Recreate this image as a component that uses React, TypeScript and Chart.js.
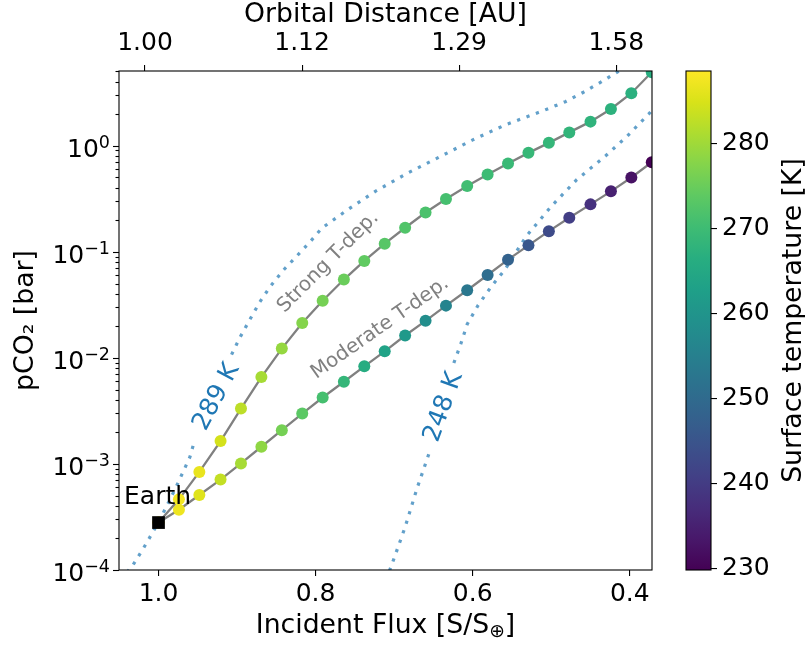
import React, { useEffect, useRef } from 'react';
import { Chart, registerables } from 'chart.js';

Chart.register(...registerables);

// ---------------- data ----------------
const FLUX = [1.0, 0.974, 0.948, 0.921, 0.895, 0.869, 0.843, 0.817, 0.791, 0.764, 0.738, 0.712, 0.686,
  0.66, 0.634, 0.607, 0.581, 0.555, 0.529, 0.503, 0.477, 0.45, 0.424, 0.398, 0.372];

const STRONG_PCO2 = [2.8e-4, 4.63e-4, 8.4e-4, 1.64e-3, 3.32e-3, 6.58e-3, 0.0122, 0.0213, 0.0345, 0.0546,
  0.0817, 0.119, 0.168, 0.234, 0.313, 0.415, 0.533, 0.678, 0.853, 1.06, 1.33, 1.68, 2.21, 3.11, 4.91];

const MODERATE_PCO2 = [2.8e-4, 3.7e-4, 5.09e-4, 7.11e-4, 1.01e-3, 1.45e-3, 2.08e-3, 2.98e-3, 4.22e-3, 5.94e-3,
  8.3e-3, 0.0115, 0.0162, 0.0223, 0.031, 0.0433, 0.0603, 0.0841, 0.1146, 0.156, 0.209, 0.279, 0.37, 0.5, 0.697];

const STRONG_T = [289, 287.5, 286.5, 284.5, 282.5, 280.5, 279, 277.5, 276, 275, 274, 273, 272.3, 271.6, 271,
  270.4, 269.9, 269.4, 268.9, 268.5, 268.1, 267.7, 267.3, 266.9, 266.5];

const MODERATE_T = [289, 287, 285.5, 283, 280.5, 278.5, 276, 273.5, 271, 268.5, 266, 263.5, 261, 258.5, 256,
  253, 250.5, 248, 245.5, 243, 240.5, 238, 235, 232.5, 229.8];

const ISO289_FLUX = [1.04, 1.033, 1.019, 1.0, 0.979, 0.96, 0.954, 0.93, 0.907, 0.896, 0.883, 0.871, 0.858,
  0.841, 0.824, 0.807, 0.792, 0.76, 0.724, 0.683, 0.641, 0.6, 0.559, 0.513, 0.482, 0.459, 0.437, 0.415, 0.407];
const ISO289_PCO2: (number | null)[] = [9.5e-5, 1.1e-4, 1.61e-4, 2.81e-4, 5.75e-4, 1.16e-3, 1.67e-3, null, 0.0107,
  0.0157, 0.0234, 0.0336, 0.0466, 0.0669, 0.0907, 0.1238, 0.1666, 0.246, 0.37, 0.549, 0.789, 1.13, 1.56, 2.09,
  2.59, 3.18, 3.95, 4.97, 5.38];

const ISO248_FLUX = [0.706, 0.703, 0.686, 0.671, 0.654, 0.639, 0.624, 0.615, 0.607, 0.593, 0.576, 0.559, 0.532,
  0.5, 0.468, 0.431, 0.403, 0.376, 0.369];
const ISO248_PCO2: (number | null)[] = [9.8e-5, 1.12e-4, 2.54e-4, 5.83e-4, 1.36e-3, null, 8.93e-3, 0.0136, 0.0207,
  0.0313, 0.0473, 0.0676, 0.139, 0.267, 0.473, 0.796, 1.23, 1.98, 2.26];

const EARTH_FLUX = 1.0;
const EARTH_PCO2 = 2.8e-4;

const X_TICKS = [1.0, 0.8, 0.6, 0.4];
const Y_DECADES = [-4, -3, -2, -1, 0];
const Y_MULTS = [1, 2, 3, 4, 5, 6, 7, 8, 9];
const CB_TICKS = [230, 240, 250, 260, 270, 280];

const X_MIN = 0.3717;
const X_MAX = 1.0503;
const TOP_SHIFT = -0.0172;
const Y_MIN = 1e-4;
const Y_MAX = 5.04;
const T_MIN = 229.8;
const T_MAX = 288.5;

// ---------------- styling ----------------
const FONT = "'DejaVu Sans', sans-serif";
const VIRIDIS = ['#440154', '#48186a', '#472d7b', '#424086', '#3b528b', '#33638d', '#2c728e', '#26828e',
  '#21918c', '#1fa088', '#28ae80', '#3fbc73', '#5ec962', '#84d44b', '#addc30', '#d8e219', '#fde725'];

const hexToRgb = (h: string) => [parseInt(h.slice(1, 3), 16), parseInt(h.slice(3, 5), 16), parseInt(h.slice(5, 7), 16)];
const cmap = (t: number) => {
  const f = Math.min(1, Math.max(0, (t - T_MIN) / (T_MAX - T_MIN))) * (VIRIDIS.length - 1);
  const i = Math.min(VIRIDIS.length - 2, Math.floor(f));
  const r = f - i;
  const a = hexToRgb(VIRIDIS[i]);
  const b = hexToRgb(VIRIDIS[i + 1]);
  const c = a.map((v, k) => Math.round(v + (b[k] - v) * r));
  return `rgb(${c[0]},${c[1]},${c[2]})`;
};

const TEXT_LABELS = [
  { text: 'Strong T-dep.', flux: 0.784, pco2: 0.0796, angle: 45, color: '#808080', size: 20 },
  { text: 'Moderate T-dep.', flux: 0.718, pco2: 0.019, angle: 35, color: '#808080', size: 20 },
  { text: '289 K', flux: 0.926, pco2: 4.27e-3, angle: 62, color: '#1f77b4', size: 25 },
  { text: '248 K', flux: 0.637, pco2: 3.43e-3, angle: 70, color: '#1f77b4', size: 25 },
];
const EARTH_LABEL = { text: 'Earth', flux: 1.0439, pco2: 4.21e-4 };

const pts = (xs: number[], ys: (number | null)[]) => xs.map((x, i) => ({ x, y: ys[i] }));

const zeroPad = (s: any) => {
  s.paddingLeft = 0; s.paddingRight = 0; s.paddingTop = 0; s.paddingBottom = 0;
};

const mainPlugin = {
  id: 'mainDecor',
  afterDraw(chart: any) {
    const { ctx, chartArea: ca, scales } = chart;
    const xs = scales.x;
    const ys = scales.y;
    ctx.save();
    // y ticks (major + minor) and major labels 10^n
    ctx.strokeStyle = '#000';
    ctx.lineWidth = 1.1;
    for (const t of ys.ticks) {
      const py = Math.round(ys.getPixelForValue(t.value)) + 0.5;
      const e = Math.log10(t.value);
      const r = Math.round(e);
      const major = Math.abs(e - r) < 1e-6;
      const len = major ? 6 : 3.5;
      ctx.beginPath();
      ctx.moveTo(ca.left - len, py);
      ctx.lineTo(ca.left, py);
      ctx.stroke();
      if (major) {
        const expText = r < 0 ? '\u2212' + String(-r) : String(r);
        ctx.fillStyle = '#000';
        ctx.textAlign = 'left';
        ctx.textBaseline = 'alphabetic';
        ctx.font = `17.5px ${FONT}`;
        const we = ctx.measureText(expText).width;
        ctx.font = `25px ${FONT}`;
        const wb = ctx.measureText('10').width;
        const right = ca.left - 9;
        const base = py + 10.5;
        ctx.fillText('10', right - we - wb, base);
        ctx.font = `17.5px ${FONT}`;
        ctx.fillText(expText, right - we, base - 9);
      }
    }
    // frame
    ctx.strokeRect(ca.left, ca.top, ca.right - ca.left, ca.bottom - ca.top);

    // rotated labels
    for (const l of TEXT_LABELS) {
      ctx.save();
      ctx.translate(xs.getPixelForValue(l.flux), ys.getPixelForValue(l.pco2));
      ctx.rotate((-l.angle * Math.PI) / 180);
      ctx.font = `${l.size}px ${FONT}`;
      ctx.fillStyle = l.color;
      ctx.textAlign = 'center';
      ctx.textBaseline = 'middle';
      ctx.fillText(l.text, 0, 0);
      ctx.restore();
    }
    // Earth
    ctx.font = `25px ${FONT}`;
    ctx.fillStyle = '#000';
    ctx.textAlign = 'left';
    ctx.textBaseline = 'alphabetic';
    ctx.fillText(EARTH_LABEL.text, xs.getPixelForValue(EARTH_LABEL.flux), ys.getPixelForValue(EARTH_LABEL.pco2));

    // bottom axis title with subscript
    const big = `26.7px ${FONT}`;
    const small = `18.7px ${FONT}`;
    const p1 = 'Incident Flux [S/S';
    const p2 = '\u2295';
    const p3 = ']';
    ctx.font = big;
    const w1 = ctx.measureText(p1).width;
    const w3 = ctx.measureText(p3).width;
    ctx.font = small;
    const w2 = ctx.measureText(p2).width;
    const cx = (ca.left + ca.right) / 2;
    const by = ca.bottom + 63;
    let x0 = cx - (w1 + w2 + w3) / 2;
    ctx.font = big;
    ctx.fillText(p1, x0, by);
    x0 += w1;
    ctx.font = small;
    ctx.fillText(p2, x0, by + 4);
    x0 += w2;
    ctx.font = big;
    ctx.fillText(p3, x0, by);
    ctx.restore();
  },
};

const cbPlugin = {
  id: 'cbDecor',
  beforeDraw(chart: any) {
    const { ctx, chartArea: ca } = chart;
    const g = ctx.createLinearGradient(0, ca.bottom, 0, ca.top);
    VIRIDIS.forEach((c, i) => g.addColorStop(i / (VIRIDIS.length - 1), c));
    ctx.save();
    ctx.fillStyle = g;
    ctx.fillRect(ca.left, ca.top, ca.right - ca.left, ca.bottom - ca.top);
    ctx.restore();
  },
  afterDraw(chart: any) {
    const { ctx, chartArea: ca } = chart;
    ctx.save();
    ctx.strokeStyle = '#000';
    ctx.lineWidth = 1.1;
    ctx.strokeRect(ca.left, ca.top, ca.right - ca.left, ca.bottom - ca.top);
    ctx.translate(794, (ca.top + ca.bottom) / 2);
    ctx.rotate(-Math.PI / 2);
    ctx.font = `26.7px ${FONT}`;
    ctx.fillStyle = '#000';
    ctx.textAlign = 'center';
    ctx.textBaseline = 'middle';
    ctx.fillText('Surface temperature [K]', 0, 0);
    ctx.restore();
  },
};

export default function App() {
  const mainRef = useRef<HTMLCanvasElement>(null);
  const cbRef = useRef<HTMLCanvasElement>(null);

  useEffect(() => {
    Chart.defaults.font.family = FONT;
    Chart.defaults.font.size = 25;
    Chart.defaults.color = '#000';

    const yTicks: number[] = [];
    Y_DECADES.forEach((d) => Y_MULTS.forEach((m) => {
      const v = m * Math.pow(10, d);
      if (v <= Y_MAX * 1.0001) yTicks.push(v);
    }));

    const axisGrid = { drawOnChartArea: false, drawTicks: true, tickLength: 6, color: '#000', lineWidth: 1.1 };

    const main = new Chart(mainRef.current!, {
      type: 'scatter',
      data: {
        datasets: [
          {
            label: 'Earth',
            data: [{ x: EARTH_FLUX, y: EARTH_PCO2 }],
            pointStyle: 'rect',
            pointRadius: 9,
            pointBackgroundColor: '#000',
            pointBorderWidth: 0,
            borderWidth: 0,
            order: 0,
            clip: 0,
          } as any,
          {
            label: 'Strong T-dep.',
            data: pts(FLUX, STRONG_PCO2),
            showLine: true,
            borderColor: '#808080',
            borderWidth: 2.3,
            pointRadius: 6,
            pointBackgroundColor: STRONG_T.map(cmap),
            pointBorderWidth: 0,
            order: 1,
            clip: 0,
          } as any,
          {
            label: 'Moderate T-dep.',
            data: pts(FLUX, MODERATE_PCO2),
            showLine: true,
            borderColor: '#808080',
            borderWidth: 2.3,
            pointRadius: 6,
            pointBackgroundColor: MODERATE_T.map(cmap),
            pointBorderWidth: 0,
            order: 2,
            clip: 0,
          } as any,
          {
            label: '289 K',
            data: pts(ISO289_FLUX, ISO289_PCO2),
            showLine: true,
            spanGaps: false,
            borderColor: 'rgba(31,119,180,0.7)',
            borderWidth: 3.2,
            borderDash: [3.2, 6.8],
            borderCapStyle: 'butt',
            pointRadius: 0,
            order: 3,
            clip: 0,
          } as any,
          {
            label: '248 K',
            data: pts(ISO248_FLUX, ISO248_PCO2),
            showLine: true,
            spanGaps: false,
            borderColor: 'rgba(31,119,180,0.7)',
            borderWidth: 3.2,
            borderDash: [3.2, 6.8],
            borderCapStyle: 'butt',
            pointRadius: 0,
            order: 4,
            clip: 0,
          } as any,
        ],
      },
      options: {
        responsive: false,
        animation: false,
        devicePixelRatio: 1,
        events: [],
        layout: { padding: { left: 0, right: 153, top: 0, bottom: 0 } },
        plugins: { legend: { display: false }, tooltip: { enabled: false } },
        scales: {
          x: {
            type: 'linear',
            position: 'bottom',
            reverse: true,
            min: X_MIN,
            max: X_MAX,
            afterBuildTicks: (s: any) => { s.ticks = X_TICKS.map((v) => ({ value: v })); },
            afterFit: (s: any) => { s.height = 76; zeroPad(s); },
            ticks: { padding: 3, autoSkip: false, maxRotation: 0, color: '#000', font: { size: 25 }, callback: (v: any) => Number(v).toFixed(1) },
            grid: axisGrid,
            border: { display: false },
          },
          x2: {
            type: 'linear',
            position: 'top',
            reverse: true,
            min: X_MIN + TOP_SHIFT,
            max: X_MAX + TOP_SHIFT,
            afterBuildTicks: (s: any) => { s.ticks = X_TICKS.map((v) => ({ value: v })); },
            afterFit: (s: any) => { s.height = 71; zeroPad(s); },
            ticks: { padding: 7, autoSkip: false, maxRotation: 0, color: '#000', font: { size: 25 }, callback: (v: any) => (1 / Math.sqrt(Number(v))).toFixed(2) },
            grid: axisGrid,
            border: { display: false },
            title: { display: true, text: 'Orbital Distance [AU]', color: '#000', font: { size: 26.7, lineHeight: 1.1 }, padding: { top: 0, bottom: 0 } },
          },
          y: {
            type: 'logarithmic',
            position: 'left',
            min: Y_MIN,
            max: Y_MAX,
            afterBuildTicks: (s: any) => { s.ticks = yTicks.map((v) => ({ value: v })); },
            afterFit: (s: any) => { s.width = 119; zeroPad(s); },
            ticks: { display: false, autoSkip: false },
            grid: { drawOnChartArea: false, drawTicks: true, tickLength: 6, tickColor: 'rgba(0,0,0,0)', color: 'rgba(0,0,0,0)' },
            border: { display: false },
            title: { display: true, text: 'pCO\u2082 [bar]', color: '#000', font: { size: 26.7, lineHeight: 1.1 }, padding: { top: 11, bottom: 0 } },
          },
        },
      } as any,
      plugins: [mainPlugin],
    });

    const cb = new Chart(cbRef.current!, {
      type: 'scatter',
      data: { datasets: [] },
      options: {
        responsive: false,
        animation: false,
        devicePixelRatio: 1,
        events: [],
        layout: { padding: { left: 686, right: 0, top: 71, bottom: 76 } },
        plugins: { legend: { display: false }, tooltip: { enabled: false } },
        scales: {
          x: { display: false, min: 0, max: 1 },
          y: {
            position: 'right',
            min: T_MIN,
            max: T_MAX,
            afterBuildTicks: (s: any) => { s.ticks = CB_TICKS.map((v) => ({ value: v })); },
            afterFit: (s: any) => { s.width = 94; zeroPad(s); },
            ticks: { padding: 5, autoSkip: false, color: '#000', font: { size: 25 }, callback: (v: any) => String(v) },
            grid: { drawOnChartArea: false, drawTicks: true, tickLength: 6, color: '#000', lineWidth: 1.1 },
            border: { display: false },
          },
        },
      } as any,
      plugins: [cbPlugin],
    });

    return () => {
      main.destroy();
      cb.destroy();
    };
  }, []);

  return (
    <div style={{ position: 'absolute', left: 0, top: 0, width: 805, height: 646, background: '#fff' }}>
      <canvas ref={mainRef} width={805} height={646} style={{ position: 'absolute', left: 0, top: 0 }} />
      <canvas ref={cbRef} width={805} height={646} style={{ position: 'absolute', left: 0, top: 0, pointerEvents: 'none' }} />
    </div>
  );
}
